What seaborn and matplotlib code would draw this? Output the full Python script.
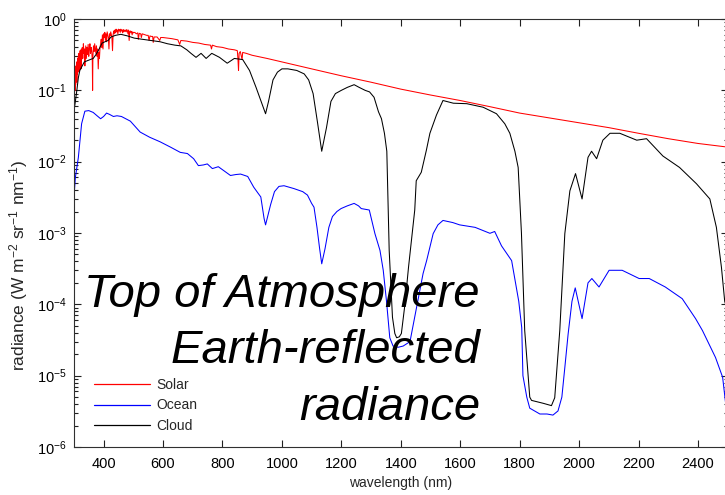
import numpy as np
import pandas as pd
import matplotlib
matplotlib.use('Agg')
import matplotlib.pyplot as plt
import seaborn as sns
from matplotlib.lines import Line2D
from matplotlib.ticker import LogLocator, FixedLocator, NullFormatter, FuncFormatter

# Solar spectrum (noisy UV/blue part typed point by point)
solar_wl = [300, 301, 302, 303, 304, 305, 306, 307, 308, 309, 310, 311, 312, 313, 314, 315,
            316, 317, 318, 319, 320, 321, 322, 323, 324, 325, 326, 328, 330,
            332, 334, 336, 337, 338, 340, 342, 344, 346, 348, 350, 352, 354, 356, 358, 360, 362,
            363, 364, 366, 368, 370, 372, 374, 376, 378, 380, 382, 384, 386, 388, 390, 392,
            394, 396, 398, 400, 402, 404, 406, 408, 410, 412, 414, 416, 418, 420, 422, 424,
            426, 428, 430, 432, 434, 436, 438, 440, 442, 444, 446, 448, 450, 452, 454, 456,
            458, 460, 462, 464, 466, 468, 470, 472, 474, 476, 478, 480, 482, 484, 486, 488,
            490, 492, 494, 496, 498, 500, 505, 510, 515, 517, 520, 525, 527, 530, 535, 540,
            545, 550, 553, 556, 560, 565, 567, 570, 580, 589, 592, 600, 615, 630, 650, 656,
            660, 680, 700, 720, 740, 760, 763, 766, 780, 800, 820, 840, 850, 852, 854, 856,
            860, 866, 868, 880, 900, 950, 1000, 1100, 1200, 1300, 1400, 1500, 1600, 1700,
            1800, 1900, 2000, 2100, 2200, 2300, 2400, 2500]
solar_val = [0.06, 0.11, 0.08, 0.15, 0.10, 0.19, 0.12, 0.22, 0.15, 0.25, 0.13, 0.22, 0.17, 0.28, 0.18, 0.30,
             0.21, 0.33, 0.19, 0.27, 0.23, 0.36, 0.25, 0.32, 0.20, 0.38, 0.27, 0.40, 0.28,
             0.45, 0.33, 0.38, 0.22, 0.30, 0.42, 0.28, 0.40, 0.32, 0.44, 0.30, 0.38, 0.45, 0.33, 0.40, 0.36, 0.26,
             0.10, 0.30, 0.42, 0.35, 0.45, 0.38, 0.33, 0.42, 0.30, 0.38, 0.20, 0.34, 0.28, 0.40, 0.45, 0.52,
             0.40, 0.60, 0.38, 0.62, 0.55, 0.65, 0.50, 0.62, 0.48, 0.66, 0.60, 0.55, 0.38, 0.62, 0.58, 0.66,
             0.60, 0.55, 0.36, 0.60, 0.68, 0.62, 0.70, 0.64, 0.72, 0.66, 0.70, 0.62, 0.72, 0.68, 0.71, 0.65,
             0.72, 0.68, 0.70, 0.64, 0.71, 0.66, 0.70, 0.67, 0.70, 0.66, 0.71, 0.68, 0.62, 0.70, 0.50, 0.67,
             0.68, 0.64, 0.67, 0.60, 0.66, 0.64, 0.65, 0.62, 0.64, 0.52, 0.63, 0.62, 0.55, 0.62, 0.61, 0.60,
             0.59, 0.59, 0.50, 0.58, 0.57, 0.57, 0.47, 0.56, 0.56, 0.50, 0.55, 0.55, 0.54, 0.53, 0.51, 0.44,
             0.50, 0.49, 0.47, 0.46, 0.44, 0.43, 0.38, 0.43, 0.41, 0.40, 0.38, 0.37, 0.36, 0.28, 0.19, 0.33,
             0.35, 0.27, 0.34, 0.33, 0.31, 0.28, 0.25, 0.20, 0.16, 0.13, 0.104, 0.086, 0.072, 0.059,
             0.048, 0.041, 0.035, 0.030, 0.025, 0.021, 0.018, 0.016]

ocean_wl = [300, 305, 315, 326, 337, 350, 365, 378, 390, 400, 410, 420, 433, 445, 460, 490,
            523, 555, 590, 625, 658, 682, 703, 719, 736, 749, 766, 786, 810, 827, 845, 861,
            885, 905, 920, 929, 940, 945, 952, 962, 975, 990, 1007, 1040, 1070, 1086, 1100, 1108,
            1118, 1127, 1134, 1145, 1158, 1170, 1185, 1199, 1220, 1243, 1258, 1267, 1294, 1313, 1330, 1341,
            1352, 1363, 1374, 1391, 1408, 1431, 1453, 1475, 1487, 1509, 1525, 1542, 1575, 1598, 1650, 1700,
            1716, 1739, 1773, 1797, 1807, 1811, 1824, 1834, 1868, 1892, 1912, 1929, 1942, 1952, 1963, 1976,
            1987, 2010, 2030, 2043, 2067, 2101, 2145, 2202, 2236, 2290, 2347, 2392, 2415, 2459, 2483, 2500]
ocean_val = [0.003, 0.006, 0.0114, 0.034, 0.051, 0.052, 0.049, 0.044, 0.040, 0.043, 0.048, 0.046, 0.043, 0.044, 0.043, 0.037,
             0.026, 0.022, 0.019, 0.016, 0.0135, 0.013, 0.011, 0.0088, 0.0090, 0.0093, 0.0080, 0.0085, 0.0072, 0.0064, 0.0066, 0.0067,
             0.0062, 0.0044, 0.0036, 0.0032, 0.0016, 0.0013, 0.0017, 0.0025, 0.0038, 0.0045, 0.0046, 0.0042, 0.0038, 0.0034, 0.0026, 0.0023,
             0.0012, 0.0006, 0.00037, 0.0006, 0.0012, 0.0017, 0.0020, 0.0022, 0.0024, 0.0026, 0.0024, 0.0022, 0.0021, 0.00098, 0.00057, 0.0003,
             0.00011, 3.4e-5, 2.6e-5, 2.5e-5, 2.6e-5, 3e-5, 9e-5, 2.7e-4, 4.1e-4, 9.8e-4, 0.0013, 0.0015, 0.0014, 0.0013, 0.0012, 0.00099,
             0.00105, 6.6e-4, 4.1e-4, 1.1e-4, 4.7e-5, 1.0e-5, 5e-6, 3.5e-6, 2.9e-6, 2.9e-6, 2.8e-6, 3.2e-6, 5e-6, 1.3e-5, 3.8e-5, 1.1e-4,
             1.7e-4, 6.3e-5, 2.0e-4, 2.3e-4, 1.75e-4, 3e-4, 3e-4, 2.3e-4, 2.3e-4, 1.75e-4, 1.2e-4, 6.3e-5, 4.3e-5, 1.8e-5, 9.5e-6, 2.3e-6]

cloud_wl = [300, 305, 310, 315, 320, 328, 335, 345, 355, 365, 375, 385, 395, 405, 415, 425,
            440, 458, 480, 503, 530, 559, 590, 615, 640, 660, 680, 694, 711, 728, 745, 764,
            790, 816, 840, 868, 891, 913, 930, 945, 955, 970, 985, 1000, 1020, 1050, 1075, 1090,
            1105, 1120, 1134, 1150, 1165, 1180, 1200, 1220, 1243, 1260, 1280, 1295, 1310, 1325, 1335, 1345,
            1353, 1361, 1372, 1380, 1386, 1395, 1402, 1414, 1426, 1447, 1452, 1469, 1486, 1498, 1520, 1542,
            1577, 1622, 1677, 1722, 1750, 1767, 1784, 1795, 1806, 1817, 1834, 1840, 1879, 1907, 1918, 1935,
            1952, 1969, 1988, 2010, 2030, 2042, 2059, 2080, 2104, 2137, 2194, 2227, 2282, 2338, 2395, 2440,
            2462, 2479, 2490, 2500]
cloud_val = [0.05, 0.07, 0.10, 0.15, 0.19, 0.22, 0.25, 0.26, 0.27, 0.28, 0.32, 0.38, 0.46, 0.48, 0.50, 0.56,
             0.59, 0.61, 0.58, 0.54, 0.52, 0.50, 0.48, 0.45, 0.43, 0.42, 0.37, 0.33, 0.29, 0.33, 0.28, 0.33,
             0.29, 0.24, 0.28, 0.27, 0.19, 0.11, 0.07, 0.047, 0.07, 0.14, 0.18, 0.20, 0.20, 0.19, 0.17, 0.14,
             0.09, 0.035, 0.014, 0.03, 0.07, 0.09, 0.10, 0.11, 0.12, 0.11, 0.10, 0.095, 0.08, 0.05, 0.04, 0.025,
             0.014, 5.7e-4, 6.6e-5, 3.9e-5, 3.4e-5, 3.5e-5, 3.9e-5, 1.0e-4, 3.3e-4, 0.0021, 0.0054, 0.0071, 0.0144, 0.025, 0.045, 0.072,
             0.066, 0.065, 0.058, 0.047, 0.034, 0.025, 0.014, 0.0083, 0.001, 4.3e-5, 5e-6, 4.5e-6, 4.1e-6, 3.8e-6, 4.9e-6, 4.3e-5,
             9.8e-4, 0.0039, 0.0068, 0.003, 0.0115, 0.014, 0.011, 0.020, 0.025, 0.025, 0.020, 0.021, 0.012, 0.0083, 0.0049, 0.003,
             0.0012, 3.3e-4, 1.1e-4, 8e-5]

series_names = ['Solar', 'Ocean', 'Cloud']
series_colors = ['#ff0000', '#0000ff', '#000000']
title_lines = ['Top of Atmosphere', 'Earth-reflected', 'radiance']

df = pd.concat([
    pd.DataFrame({'wavelength': solar_wl, 'radiance': solar_val, 'series': 'Solar'}),
    pd.DataFrame({'wavelength': ocean_wl, 'radiance': ocean_val, 'series': 'Ocean'}),
    pd.DataFrame({'wavelength': cloud_wl, 'radiance': cloud_val, 'series': 'Cloud'}),
], ignore_index=True)

sns.set_style('white')
plt.rcParams['font.family'] = ['Liberation Sans', 'DejaVu Sans']
plt.rcParams['mathtext.default'] = 'regular'

fig = plt.figure(figsize=(7.25, 4.95), dpi=100)
ax = fig.add_axes([0.1019, 0.097, 0.9018, 0.8646])

sns.lineplot(data=df, x='wavelength', y='radiance', hue='series', hue_order=series_names,
             palette=dict(zip(series_names, series_colors)), estimator=None, linewidth=0.75,
             legend=False, ax=ax)

ax.set_yscale('log')
ax.set_xlim(300, 2500)
ax.set_ylim(1e-6, 1)

ax.xaxis.set_major_locator(FixedLocator(np.arange(400, 2401, 200)))
ax.yaxis.set_major_locator(FixedLocator([1e-6, 1e-5, 1e-4, 1e-3, 1e-2, 1e-1, 1]))
ax.yaxis.set_minor_locator(LogLocator(base=10, subs=np.arange(2, 10), numticks=20))
ax.yaxis.set_minor_formatter(NullFormatter())
ax.yaxis.set_major_formatter(FuncFormatter(lambda v, p: '$10^{%d}$' % round(np.log10(v))))

ax.tick_params(which='both', direction='in', bottom=True, left=True, top=True, right=True,
               colors='#202020', labelcolor='black', width=0.8, labelsize=10.5)
ax.tick_params(which='major', length=5)
ax.tick_params(which='minor', length=3)
ax.tick_params(axis='x', pad=7)
ax.tick_params(axis='y', pad=5)
for s in ax.spines.values():
    s.set_color('#303030')
    s.set_linewidth(0.8)

ax.set_xlabel('wavelength (nm)', fontsize=10, labelpad=4)
ax.set_ylabel('radiance (W m$^{-2}$ sr$^{-1}$ nm$^{-1}$)', fontsize=12.5)
ax.yaxis.set_label_coords(-0.067, 0.425)

handles = [Line2D([], [], color=c, lw=0.9) for c in series_colors]
ax.legend(handles, series_names, loc='upper left', bbox_to_anchor=(0.012, 0.19),
          frameon=False, fontsize=10, handlelength=4.0, handletextpad=0.5, labelspacing=0.45)

baselines = [0.380, 0.267, 0.152]
for line, yb in zip(title_lines, baselines):
    fig.text(0.662, yb, line, ha='right', va='baseline', fontsize=34, style='italic',
             color='black')

fig.savefig('out.png', dpi=100)
